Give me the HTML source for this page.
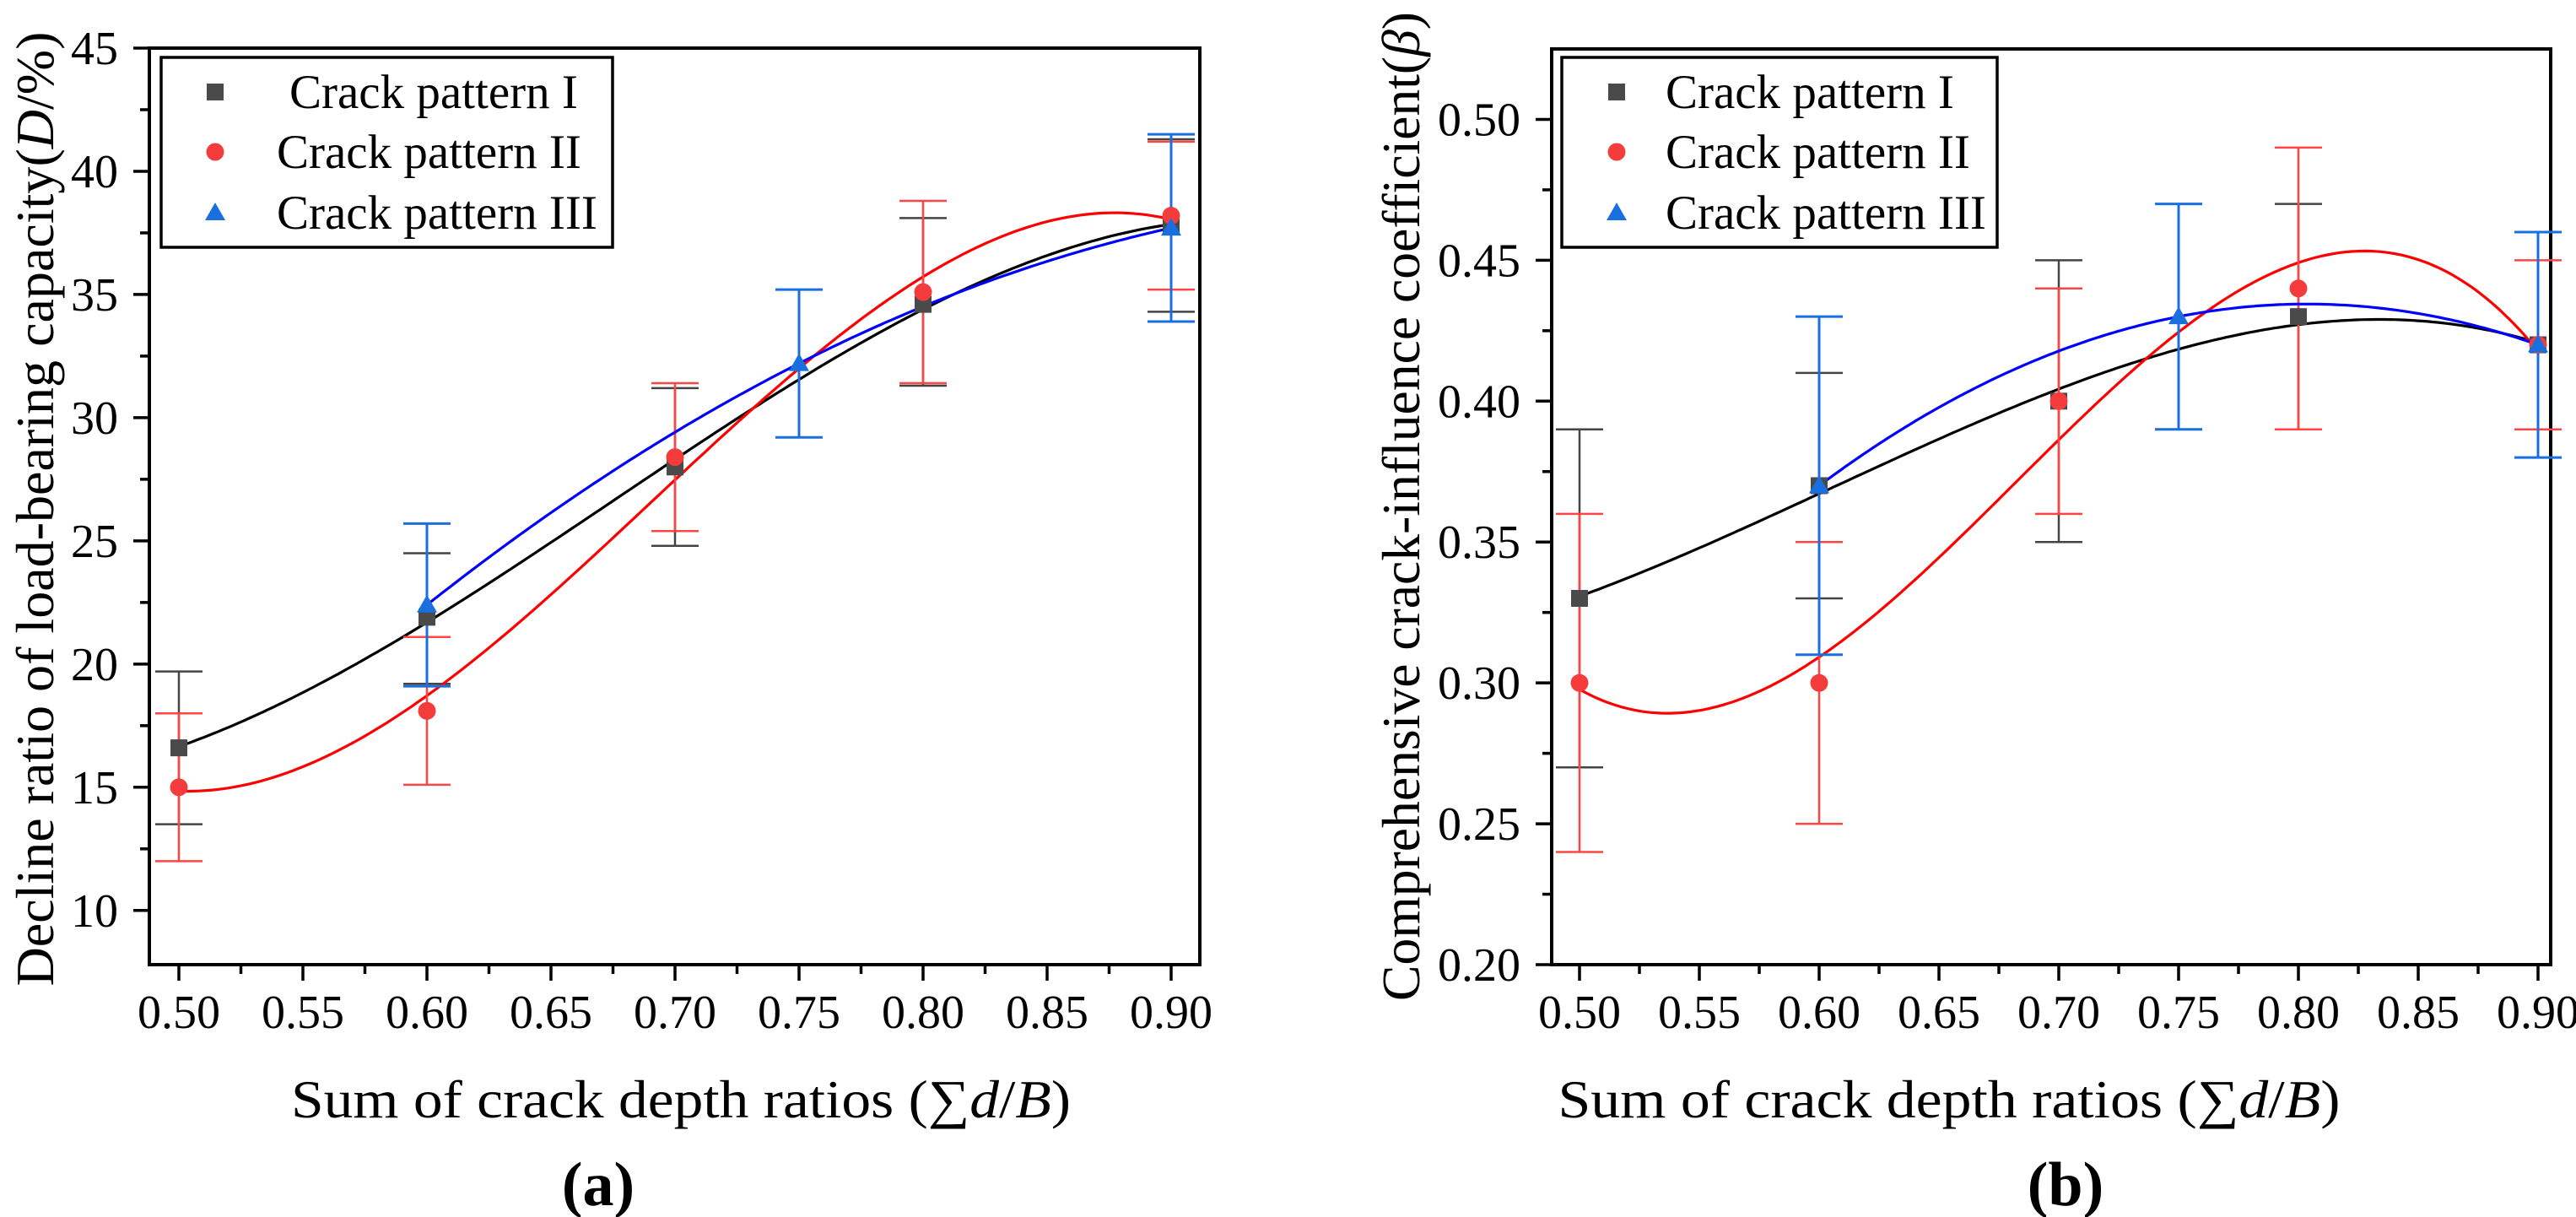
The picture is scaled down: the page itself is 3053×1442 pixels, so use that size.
<!DOCTYPE html>
<html><head><meta charset="utf-8"><style>
html,body{margin:0;padding:0;background:#fff;}
svg{display:block;}
svg text{font-family:"Liberation Serif","Times New Roman",Times,serif;}
</style></head><body>
<svg id="chart" width="3053" height="1442" viewBox="0 0 3053 1442" xmlns="http://www.w3.org/2000/svg" font-family="Liberation Serif, serif"></svg>
<script>
// ---- Panel (a) data ----
const xA1 = [0.5,0.6,0.7,0.8,0.9];
const yA1 = [16.6,21.9,28.0,34.6,37.8];
const eA1lo = [13.5,19.2,24.8,31.3,34.3];
const eA1hi = [19.7,24.5,31.2,38.1,41.3];
const xA2 = [0.5,0.6,0.7,0.8,0.9];
const yA2 = [15.0,18.1,28.4,35.1,38.2];
const eA2lo = [12.0,15.1,25.4,31.4,35.2];
const eA2hi = [18.0,21.1,31.4,38.8,41.2];
const xA3 = [0.6,0.75,0.9];
const yA3 = [22.4,32.2,37.7];
const eA3lo = [19.1,29.2,33.9];
const eA3hi = [25.7,35.2,41.5];
const xTicksA = ["0.50","0.55","0.60","0.65","0.70","0.75","0.80","0.85","0.90"];
const yTicksA = ["10","15","20","25","30","35","40","45"];
// ---- Panel (b) data ----
const xB1 = [0.5,0.6,0.7,0.8,0.9];
const yB1 = [0.33,0.37,0.40,0.43,0.42];
const eB1lo = [0.27,0.33,0.35,0.39,0.38];
const eB1hi = [0.39,0.41,0.45,0.47,0.46];
const xB2 = [0.5,0.6,0.7,0.8,0.9];
const yB2 = [0.30,0.30,0.40,0.44,0.42];
const eB2lo = [0.24,0.25,0.36,0.39,0.39];
const eB2hi = [0.36,0.35,0.44,0.49,0.45];
const xB3 = [0.6,0.75,0.9];
const yB3 = [0.37,0.43,0.42];
const eB3lo = [0.31,0.39,0.38];
const eB3hi = [0.43,0.47,0.46];
const xTicksB = ["0.50","0.55","0.60","0.65","0.70","0.75","0.80","0.85","0.90"];
const yTicksB = ["0.20","0.25","0.30","0.35","0.40","0.45","0.50"];

const NS="http://www.w3.org/2000/svg";
const FONT='"Liberation Serif", "Times New Roman", serif';
const svg=document.getElementById('chart');
function mk(tag,attrs,parent){const e=document.createElementNS(NS,tag);for(const k in attrs)e.setAttribute(k,attrs[k]);if(tag==='text')e.style.fontFamily=FONT;(parent||svg).appendChild(e);return e;}

function polyfit(xs,ys,deg){
  const n=deg+1;const A=[];for(let i=0;i<n;i++){A.push(new Array(n+1).fill(0));}
  for(let k=0;k<xs.length;k++){for(let i=0;i<n;i++){for(let j=0;j<n;j++)A[i][j]+=Math.pow(xs[k],i+j);A[i][n]+=ys[k]*Math.pow(xs[k],i);}}
  for(let i=0;i<n;i++){let p=i;for(let r=i+1;r<n;r++)if(Math.abs(A[r][i])>Math.abs(A[p][i]))p=r;[A[i],A[p]]=[A[p],A[i]];
    for(let r=0;r<n;r++){if(r===i)continue;const f=A[r][i]/A[i][i];for(let c=i;c<=n;c++)A[r][c]-=f*A[i][c];}}
  return A.map((row,i)=>row[n]/row[i]);
}
function pv(c,x){let s=0;for(let i=0;i<c.length;i++)s+=c[i]*Math.pow(x,i);return s;}

function panel(cfg){
  const g=mk('g',{});
  
  
  const X=v=>cfg.x0+(v-0.5)/0.4*(cfg.x9-cfg.x0);
  const Y=v=>cfg.yb-(v-cfg.ymin)/(cfg.ymax-cfg.ymin)*(cfg.yb-cfg.yt);
  const fr=mk('rect',{x:cfg.L,y:cfg.yt,width:cfg.R-cfg.L,height:cfg.yb-cfg.yt,fill:'none',stroke:'#000','stroke-width':4},g);
  
  
  const xt=mk('g',{},g);
  
  
  cfg.xTicks.forEach((t,i)=>{const v=parseFloat(t);const px=X(v);
    mk('line',{x1:px,y1:cfg.yb,x2:px,y2:cfg.yb+19,stroke:'#000','stroke-width':3.5},xt);
    if(i<cfg.xTicks.length-1){const m=X(v+0.025);mk('line',{x1:m,y1:cfg.yb,x2:m,y2:cfg.yb+11,stroke:'#000','stroke-width':3.5},xt);}
    const tx=mk('text',{x:px,y:1218,'font-size':56,'text-anchor':'middle'},xt);tx.textContent=t;
    
    
  });
  const yt=mk('g',{},g);
  
  
  const step=parseFloat(cfg.yTicks[1])-parseFloat(cfg.yTicks[0]);
  cfg.yTicks.forEach((t,i)=>{const v=parseFloat(t);const py=Y(v);
    mk('line',{x1:cfg.L,y1:py,x2:cfg.L-19,y2:py,stroke:'#000','stroke-width':3.5},yt);
    [v-step/2,v+step/2].forEach(m=>{if(m>cfg.ymin&&m<cfg.ymax&&(m<v||i===cfg.yTicks.length-1)){const q=Y(m);mk('line',{x1:cfg.L,y1:q,x2:cfg.L-11,y2:q,stroke:'#000','stroke-width':3.5},yt);}});
    const tx=mk('text',{x:cfg.L-37,y:py+19,'font-size':56,'text-anchor':'end'},yt);tx.textContent=t;
    
    
  });
  const xtitle=mk('text',{x:cfg.xtc,y:1324,'font-size':64,'text-anchor':'middle',textLength:cfg.xtl,lengthAdjust:'spacingAndGlyphs'},g);
  xtitle.innerHTML='Sum of crack depth ratios (∑<tspan font-style="italic">d</tspan>/<tspan font-style="italic">B</tspan>)';
  
  
  const ytitle=mk('text',{x:0,y:0,'font-size':64,'text-anchor':'middle',textLength:cfg.ytl,lengthAdjust:'spacingAndGlyphs',transform:`translate(${cfg.ytx},${cfg.ytc}) rotate(-90)`},g);
  ytitle.innerHTML=cfg.ytitle;
  
  
  const lab=mk('text',{x:cfg.labx,y:1428,'font-size':74,'font-weight':'bold','text-anchor':'middle'},g);
  lab.textContent='('+cfg.lab+')';
  
  
  cfg.series.forEach(s=>{
    const sg=mk('g',{},g);
    
    
    const c=polyfit(s.x,s.y,s.deg);let d='';
    const a=Math.min(...s.x),b=Math.max(...s.x);
    for(let i=0;i<=200;i++){const v=a+(b-a)*i/200;d+=(i?'L':'M')+X(v).toFixed(1)+','+Y(pv(c,v)).toFixed(1);}
    const fit=mk('path',{d:d,fill:'none',stroke:s.line,'stroke-width':3.2},sg);
    
    
    s.x.forEach((v,i)=>{const px=X(v);
      const eb=mk('g',{stroke:s.err,'stroke-width':s.ew},sg);
      
      
      mk('line',{x1:px,y1:Y(s.lo[i]),x2:px,y2:Y(s.hi[i])},eb);
      mk('line',{x1:px-28,y1:Y(s.lo[i]),x2:px+28,y2:Y(s.lo[i])},eb);
      mk('line',{x1:px-28,y1:Y(s.hi[i]),x2:px+28,y2:Y(s.hi[i])},eb);
    });
  });
  cfg.series.forEach(s=>{
    s.x.forEach((v,i)=>{const px=X(v),py=Y(s.y[i]);
      const m=marker(s.shape,px,py,s.mk,g);
      
      
    });
  });
  const lg=mk('g',{},g);
  
  
  mk('rect',{x:cfg.lgx,y:68,width:cfg.lgw,height:225,fill:'#fff',stroke:'#000','stroke-width':3.5},lg);
  cfg.series.forEach((s,i)=>{
    const yy=[109,180,252][i];
    const e=mk('g',{},lg);
    
    
    marker(s.shape,cfg.lgmx,yy,s.mk,e);
    const t=mk('text',{x:cfg.lgtx[i],y:yy+19,'font-size':57},e);t.textContent=s.label;
  });
}
function marker(shape,x,y,col,parent){
  if(shape==='sq')return mk('rect',{x:x-10,y:y-10,width:20,height:20,fill:col},parent);
  if(shape==='ci')return mk('circle',{cx:x,cy:y,r:10.5,fill:col},parent);
  return mk('polygon',{points:`${x},${y-12} ${x+12},${y+9} ${x-12},${y+9}`,fill:col},parent);
}
const BLK='#4a4a4a',RED='#f43c3c',BLU='#1a6fe0';
panel({name:'panel-a',L:177,R:1422,yt:57,yb:1143,x0:212,x9:1388,ymin:7.8,ymax:45,
  xTicks:xTicksA,yTicks:yTicksA,xtc:807,xtl:924,ytx:63,ytc:603,ytl:1131,
  ytitle:'Decline ratio of load-bearing capacity(<tspan font-style="italic">D</tspan>/%)',labx:709,lab:'a',
  lgx:191,lgw:535,lgmx:255,lgtx:[343,328,328],
  series:[
   {name:'series-crack-pattern-1',label:'Crack pattern I',x:xA1,y:yA1,lo:eA1lo,hi:eA1hi,deg:3,line:'#000',err:'#444',ew:2.5,mk:BLK,shape:'sq'},
   {name:'series-crack-pattern-2',label:'Crack pattern II',x:xA2,y:yA2,lo:eA2lo,hi:eA2hi,deg:3,line:'#f00',err:'#f44',ew:2.5,mk:RED,shape:'ci'},
   {name:'series-crack-pattern-3',label:'Crack pattern III',x:xA3,y:yA3,lo:eA3lo,hi:eA3hi,deg:2,line:'#00f',err:BLU,ew:3,mk:BLU,shape:'tr'}]});
panel({name:'panel-b',L:1839,R:3023,yt:58,yb:1143,x0:1872,x9:3008,ymin:0.2,ymax:0.525,
  xTicks:xTicksB,yTicks:yTicksB,xtc:2310,xtl:927,ytx:1682,ytc:600,ytl:1172,
  ytitle:'Comprehensive crack-influence coefficient(<tspan font-style="italic">β</tspan>)',labx:2448,lab:'b',
  lgx:1851,lgw:516,lgmx:1916,lgtx:[1974,1974,1974],
  series:[
   {name:'series-crack-pattern-1',label:'Crack pattern I',x:xB1,y:yB1,lo:eB1lo,hi:eB1hi,deg:3,line:'#000',err:'#444',ew:2.5,mk:BLK,shape:'sq'},
   {name:'series-crack-pattern-2',label:'Crack pattern II',x:xB2,y:yB2,lo:eB2lo,hi:eB2hi,deg:3,line:'#f00',err:'#f44',ew:2.5,mk:RED,shape:'ci'},
   {name:'series-crack-pattern-3',label:'Crack pattern III',x:xB3,y:yB3,lo:eB3lo,hi:eB3hi,deg:2,line:'#00f',err:BLU,ew:3,mk:BLU,shape:'tr'}]});
</script>
</body></html>
